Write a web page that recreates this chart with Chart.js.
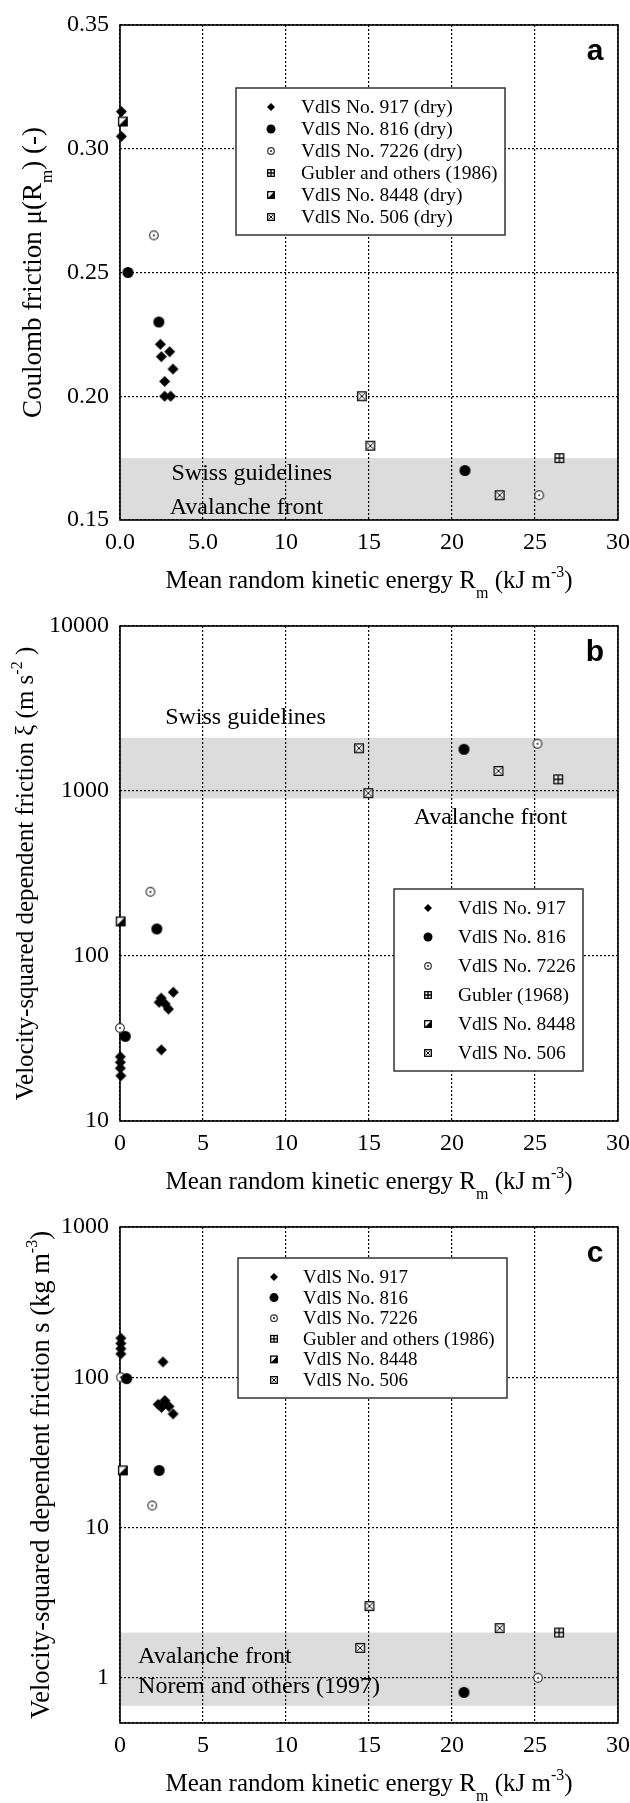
<!DOCTYPE html>
<html>
<head>
<meta charset="utf-8">
<script src="https://cdn.jsdelivr.net/npm/chart.js@4.4.1/dist/chart.umd.min.js"></script>
<style>
  html, body { margin: 0; padding: 0; background: #fff; }
  #wrap { position: relative; width: 630px; height: 1803px; }
  .panel { position: absolute; left: 0; width: 630px; }
</style>
</head>
<body>
<div id="wrap">
  <div class="panel" style="top:0;height:600px"><canvas id="chartA"></canvas></div>
  <div class="panel" style="top:600px;height:603px"><canvas id="chartB"></canvas></div>
  <div class="panel" style="top:1203px;height:600px"><canvas id="chartC"></canvas></div>
</div>
<script>
// series names
const labelsA = ['VdlS No. 917 (dry)', 'VdlS No. 816 (dry)', 'VdlS No. 7226 (dry)', 'Gubler and others (1986)', 'VdlS No. 8448 (dry)', 'VdlS No. 506 (dry)'];
const labelsB = ['VdlS No. 917', 'VdlS No. 816', 'VdlS No. 7226', 'Gubler (1968)', 'VdlS No. 8448', 'VdlS No. 506'];
const labelsC = ['VdlS No. 917', 'VdlS No. 816', 'VdlS No. 7226', 'Gubler and others (1986)', 'VdlS No. 8448', 'VdlS No. 506'];

// ticks
const xTicks = [0, 5, 10, 15, 20, 25, 30];
const xTickLabelsA = ['0.0', '5.0', '10', '15', '20', '25', '30'];
const xTickLabelsBC = ['0', '5', '10', '15', '20', '25', '30'];
const yTicksA = [0.15, 0.20, 0.25, 0.30, 0.35];
const yTickLabelsA = ['0.15', '0.20', '0.25', '0.30', '0.35'];
const yTicksB = [10, 100, 1000, 10000];
const yTickLabelsB = ['10', '100', '1000', '10000'];
const yTicksC = [1, 10, 100, 1000];
const yTickLabelsC = ['1', '10', '100', '1000'];

// panel a - Coulomb friction
const aX917 = [0.08, 0.08, 2.43, 2.99, 2.49, 3.19, 2.69, 2.69, 3.05];
const aY917 = [0.315, 0.305, 0.221, 0.218, 0.216, 0.211, 0.206, 0.200, 0.200];
const aX816 = [0.48, 2.34, 20.78];
const aY816 = [0.250, 0.230, 0.170];
const aX7226 = [2.04, 25.25];
const aY7226 = [0.265, 0.160];
const aXGub = [26.47];
const aYGub = [0.175];
const aX8448 = [0.17];
const aY8448 = [0.311];
const aX506 = [14.57, 15.08, 22.87];
const aY506 = [0.200, 0.180, 0.160];
const bandA = [0.15, 0.175];
const notesA = ['Swiss guidelines', 'Avalanche front'];
const notesAX = [3.1, 3.0];
const notesAY = [0.166, 0.1524];

// panel b - xi
const bX917 = [0.02, 0.02, 0.02, 0.05, 2.36, 2.48, 2.72, 2.92, 3.21, 2.49];
const bY917 = [24.5, 22.7, 20.9, 18.8, 52.4, 55.6, 51.2, 47.7, 60.3, 27];
const bX816 = [2.22, 0.32, 20.72];
const bY816 = [146, 32.6, 1790];
const bX7226 = [1.83, 0.0, 25.15];
const bY7226 = [245, 36.6, 1935];
const bXGub = [26.4];
const bYGub = [1177];
const bX8448 = [0.04];
const bY8448 = [162];
const bX506 = [14.4, 14.96, 22.8];
const bY506 = [1815, 970, 1322];
const bandB = [900, 2100];
const notesB = ['Swiss guidelines', 'Avalanche front'];
const notesBX = [2.72, 17.69];
const notesBY = [2547, 631];

// panel c - s
const cX917 = [0.05, 0.05, 0.05, 0.05, 2.59, 2.3, 2.5, 2.7, 2.95, 3.2];
const cY917 = [182, 168, 155, 143, 126.5, 66, 63, 70, 64, 57];
const cX816 = [0.4, 2.36, 20.72];
const cY816 = [98, 24, 0.8];
const cX7226 = [0.05, 1.94, 25.18];
const cY7226 = [100, 14, 1.0];
const cXGub = [26.45];
const cYGub = [2.0];
const cX8448 = [0.17];
const cY8448 = [24];
const cX506 = [15.03, 14.47, 22.87];
const cY506 = [3.0, 1.58, 2.14];
const bandC = [0.65, 2.0];
const notesC = ['Avalanche front', 'Norem and others (1997)'];
const notesCX = [1.09, 1.09];
const notesCY = [1.26, 0.794];

const SERIF = '"Liberation Serif", "Times New Roman", serif';
const markerTypes = ['diamond', 'dot', 'circdot', 'sqplus', 'sqhalf', 'sqx'];
const dataSizes = [11, 11, 10, 10, 10, 10];
const legendSizes = [8, 9, 8, 8, 8, 8];

function drawMarker(ctx, type, cx, cy, s) {
  const h = s / 2;
  ctx.save();
  ctx.lineWidth = 1.3;
  ctx.strokeStyle = '#000';
  ctx.fillStyle = '#000';
  if (type === 'diamond') {
    ctx.beginPath();
    ctx.moveTo(cx, cy - h); ctx.lineTo(cx + h, cy); ctx.lineTo(cx, cy + h); ctx.lineTo(cx - h, cy);
    ctx.closePath(); ctx.fill();
  } else if (type === 'dot') {
    ctx.beginPath(); ctx.arc(cx, cy, h, 0, Math.PI * 2); ctx.fill();
  } else if (type === 'circdot') {
    ctx.strokeStyle = '#333'; ctx.fillStyle = '#fff'; ctx.lineWidth = 1.2;
    ctx.beginPath(); ctx.arc(cx, cy, h - 0.7, 0, Math.PI * 2); ctx.fill(); ctx.stroke();
    ctx.fillStyle = '#333';
    ctx.beginPath(); ctx.arc(cx, cy, 1.1, 0, Math.PI * 2); ctx.fill();
  } else {
    const l = cx - h + 0.7, t = cy - h + 0.7, w = s - 1.4;
    ctx.fillStyle = '#fff';
    ctx.fillRect(l, t, w, w);
    ctx.fillStyle = '#000';
    ctx.beginPath();
    if (type === 'sqplus') {
      ctx.moveTo(cx, t); ctx.lineTo(cx, t + w); ctx.moveTo(l, cy); ctx.lineTo(l + w, cy);
      ctx.stroke();
    } else if (type === 'sqx') {
      ctx.moveTo(l + 1.5, t + 1.5); ctx.lineTo(l + w - 1.5, t + w - 1.5);
      ctx.moveTo(l + w - 1.5, t + 1.5); ctx.lineTo(l + 1.5, t + w - 1.5);
      ctx.lineWidth = 1; ctx.stroke();
    } else if (type === 'sqhalf') {
      ctx.moveTo(l + w, t); ctx.lineTo(l + w, t + w); ctx.lineTo(l, t + w); ctx.closePath();
      ctx.fill();
    }
    ctx.lineWidth = 1.3;
    ctx.strokeRect(l, t, w, w);
  }
  ctx.restore();
}

function markerCanvas(type, s) {
  const c = document.createElement('canvas');
  c.width = c.height = s + 4;
  drawMarker(c.getContext('2d'), type, (s + 4) / 2, (s + 4) / 2, s);
  return c;
}

// rich text: segments [text, kind] kind 0 normal, 1 subscript, 2 superscript
function drawRich(ctx, segs, x, y, size, rotate) {
  ctx.save();
  ctx.translate(x, y);
  if (rotate) ctx.rotate(-Math.PI / 2);
  const fontFor = k => (k ? Math.round(size * 0.62) : size) + 'px ' + SERIF;
  let total = 0;
  segs.forEach(([t, k]) => { ctx.font = fontFor(k); total += ctx.measureText(t).width; });
  let cx = -total / 2;
  ctx.fillStyle = '#000';
  ctx.textBaseline = 'alphabetic';
  ctx.textAlign = 'left';
  segs.forEach(([t, k]) => {
    ctx.font = fontFor(k);
    const dy = k === 1 ? size * 0.4 : (k === 2 ? -size * 0.45 : 0);
    ctx.fillText(t, cx, dy);
    cx += ctx.measureText(t).width;
  });
  ctx.restore();
}

function makeDecor(cfg) {
  return {
    id: 'decor' + cfg.letter,
    beforeDraw(chart) {
      const { ctx, chartArea: ca, scales: { y } } = chart;
      const y0 = y.getPixelForValue(cfg.band[0]);
      const y1 = y.getPixelForValue(cfg.band[1]);
      ctx.save();
      ctx.fillStyle = '#dcdcdc';
      ctx.fillRect(ca.left, Math.min(y0, y1), ca.right - ca.left, Math.abs(y1 - y0));
      ctx.restore();
    },
    beforeDatasetsDraw(chart) {
      const { ctx, chartArea: ca, scales: { x, y } } = chart;
      ctx.save();
      ctx.strokeStyle = '#000';
      ctx.lineWidth = 1.6;
      ctx.strokeRect(ca.left, ca.top, ca.right - ca.left, ca.bottom - ca.top);
      // notes written on the plot
      ctx.fillStyle = '#000';
      ctx.font = '24px ' + SERIF;
      ctx.textBaseline = 'alphabetic';
      ctx.textAlign = 'left';
      cfg.notes.forEach((t, i) => {
        ctx.fillText(t, x.getPixelForValue(cfg.notesX[i]), y.getPixelForValue(cfg.notesY[i]));
      });
      ctx.restore();
    },
    afterDraw(chart) {
      const { ctx, chartArea: ca } = chart;
      const L = cfg.legend;
      ctx.save();
      // legend box inside the plot
      const bl = ca.left + L.dx, bt = ca.top + L.dy;
      ctx.fillStyle = '#fff';
      ctx.fillRect(bl, bt, L.w, L.h);
      ctx.strokeStyle = '#333';
      ctx.lineWidth = 1.5;
      ctx.strokeRect(bl, bt, L.w, L.h);
      ctx.textBaseline = 'middle';
      ctx.textAlign = 'left';
      chart.data.datasets.forEach((ds, i) => {
        const ry = bt + L.first + i * L.step;
        drawMarker(ctx, markerTypes[i], bl + L.mx, ry, legendSizes[i]);
        ctx.fillStyle = '#000';
        ctx.font = L.font + 'px ' + SERIF;
        ctx.fillText(ds.label, bl + L.tx, ry + 1);
      });
      // panel letter
      ctx.font = 'bold 30px "Liberation Sans", Arial, sans-serif';
      ctx.textAlign = 'center';
      ctx.textBaseline = 'alphabetic';
      ctx.fillStyle = '#000';
      ctx.fillText(cfg.letter, ca.right - 23, ca.top + 35);
      ctx.restore();
      // axis titles
      drawRich(ctx, xTitleSegs, (ca.left + ca.right) / 2, ca.bottom + 68, 25, false);
      drawRich(ctx, cfg.yTitle, cfg.yTitleX, (ca.top + ca.bottom) / 2, cfg.yTitleSize, true);
    }
  };
}

const xTitleSegs = [['Mean random kinetic energy R', 0], ['m', 1], [' (kJ m', 0], ['-3', 2], [')', 0]];

function buildDatasets(labels, xs, ys) {
  return labels.map((lab, i) => ({
    label: lab,
    data: xs[i].map((v, j) => ({ x: v, y: ys[i][j] })),
    pointStyle: markerCanvas(markerTypes[i], dataSizes[i]),
    pointRadius: 6,
    showLine: false,
    clip: false
  }));
}

function makeChart(id, cfg) {
  const tickFont = { family: SERIF, size: 24 };
  const gridOpts = { color: '#000', lineWidth: 1.2, drawTicks: false };
  const borderOpts = { display: false, dash: [2, 2] };
  new Chart(document.getElementById(id), {
    type: 'scatter',
    data: { datasets: buildDatasets(cfg.labels, cfg.xs, cfg.ys) },
    options: {
      responsive: true,
      maintainAspectRatio: false,
      animation: false,
      layout: { padding: { top: cfg.padTop, right: 12, left: 0, bottom: 0 } },
      plugins: { legend: { display: false }, tooltip: { enabled: false } },
      scales: {
        x: {
          type: 'linear', min: 0, max: 30,
          afterBuildTicks: s => { s.ticks = xTicks.map(v => ({ value: v })); },
          afterFit: s => { s.height = cfg.xAxisH; s.paddingLeft = 0; s.paddingRight = 0; },
          ticks: { callback: (v, i) => cfg.xLabels[i], font: tickFont, color: '#000', padding: 8, maxRotation: 0, autoSkip: false },
          grid: gridOpts,
          border: borderOpts
        },
        y: {
          type: cfg.yType, min: cfg.yTicks[0], max: cfg.yTicks[cfg.yTicks.length - 1],
          afterBuildTicks: s => { s.ticks = cfg.yTicks.map(v => ({ value: v })); },
          afterFit: s => { s.width = 120; s.paddingTop = 0; s.paddingBottom = 0; },
          ticks: { callback: (v, i) => cfg.yLabels[i], font: tickFont, color: '#000', padding: 11, autoSkip: false },
          grid: gridOpts,
          border: borderOpts
        }
      }
    },
    plugins: [makeDecor(cfg)]
  });
}

makeChart('chartA', {
  letter: 'a', labels: labelsA,
  xs: [aX917, aX816, aX7226, aXGub, aX8448, aX506],
  ys: [aY917, aY816, aY7226, aYGub, aY8448, aY506],
  yType: 'linear', yTicks: yTicksA, yLabels: yTickLabelsA, xLabels: xTickLabelsA,
  padTop: 25, xAxisH: 80,
  band: bandA, notes: notesA, notesX: notesAX, notesY: notesAY,
  legend: { dx: 116, dy: 63, w: 269, h: 147, first: 19, step: 22, mx: 35, tx: 65, font: 19.5 },
  yTitle: [['Coulomb friction \u03bc(R', 0], ['m', 1], [') (-)', 0]], yTitleX: 41, yTitleSize: 27
});

makeChart('chartB', {
  letter: 'b', labels: labelsB,
  xs: [bX917, bX816, bX7226, bXGub, bX8448, bX506],
  ys: [bY917, bY816, bY7226, bYGub, bY8448, bY506],
  yType: 'logarithmic', yTicks: yTicksB, yLabels: yTickLabelsB, xLabels: xTickLabelsBC,
  padTop: 26, xAxisH: 82,
  band: bandB, notes: notesB, notesX: notesBX, notesY: notesBY,
  legend: { dx: 274, dy: 263, w: 189, h: 182, first: 19, step: 29, mx: 34, tx: 64, font: 19.5 },
  yTitle: [['Velocity-squared dependent friction \u03be (m s', 0], ['-2', 2], [' )', 0]], yTitleX: 33, yTitleSize: 25
});

makeChart('chartC', {
  letter: 'c', labels: labelsC,
  xs: [cX917, cX816, cX7226, cXGub, cX8448, cX506],
  ys: [cY917, cY816, cY7226, cYGub, cY8448, cY506],
  yType: 'logarithmic', yTicks: [0.5].concat(yTicksC), yLabels: [''].concat(yTickLabelsC), xLabels: xTickLabelsBC,
  padTop: 24, xAxisH: 80,
  band: bandC, notes: notesC, notesX: notesCX, notesY: notesCY,
  legend: { dx: 118, dy: 31, w: 269, h: 140, first: 19, step: 20.6, mx: 36, tx: 65, font: 19 },
  yTitle: [['Velocity-squared dependent friction s (kg m', 0], ['-3', 2], [')', 0]], yTitleX: 49, yTitleSize: 26.5
});
</script>
</body>
</html>
